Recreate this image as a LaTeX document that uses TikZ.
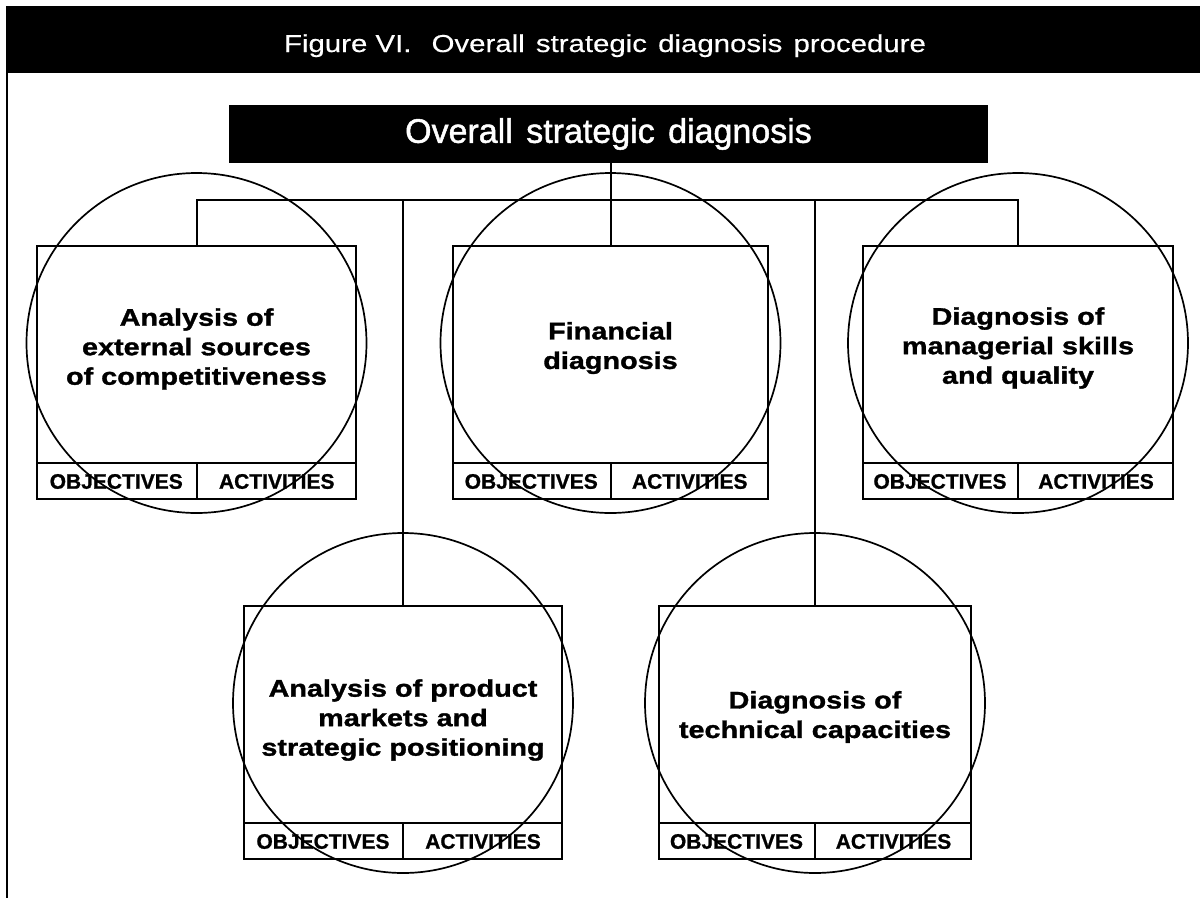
\documentclass[tikz,border=0pt]{standalone}
\usepackage{fontspec}
\setmainfont{Liberation Sans}
\newfontfamily\titlefont{Liberation Sans}[FakeStretch=1.2, FakeBold=0.4]
\newfontfamily\barfont{Liberation Sans}[FakeBold=1.4]
\newfontfamily\bodyfont{Liberation Sans}[FakeStretch=1.2, FakeBold=1.3]
\newfontfamily\cellfont{Liberation Sans}[FakeBold=1]
\usetikzlibrary{calc}

% One diagnosis block: #1 name, #2 centre x, #3 top y, #4 width,
% #5 label y, #6 label text
\newcommand\DiagBox[6]{%
  \node[frame, minimum width=#4, anchor=north] (#1) at (#2,#3) {};
  \draw[line] ([yshift=37pt]#1.south west) -- ([yshift=37pt]#1.south east);
  \draw[line] ([yshift=37pt]#1.south) -- (#1.south);
  \node[cell] (#1-obj) at ($(#1.south west)!0.25!(#1.south east)+(0,-18.5)$) {OBJECTIVES};
  \node[cell] (#1-act) at ($(#1.south west)!0.75!(#1.south east)+(0,-18.5)$) {ACTIVITIES};
  \node[label] (#1-text) at (#2,#5) {#6};
  \coordinate (#1-ring) at ($(#1.north)+(0,98)$);
  \draw[ring] (#1-ring) circle[radius=170];
}

\begin{document}
\begin{tikzpicture}[x=1pt,y=-1pt,
  line/.style={line width=2pt},
  ring/.style={line width=1.7pt},
  frame/.style={draw, line width=2pt, inner sep=0pt, minimum height=253},
  label/.style={font=\bodyfont\bfseries\fontsize{24}{29.5}\selectfont, align=center, inner sep=0pt},
  cell/.style={font=\cellfont\bfseries\fontsize{21}{21}\selectfont, inner sep=0pt}
]
\useasboundingbox (0,0) rectangle (1200,898);

% heading band and frame rule
\fill (7,6) rectangle (1200,73);
\draw[line] (7,6) -- (7,898);
\node[text=white, font=\titlefont\fontsize{24.5}{24.5}\selectfont, anchor=base] (title)
  at (605,52) {Figure VI.\hspace{12pt} Overall\hspace{3pt} strategic\hspace{3pt} diagnosis\hspace{3pt} procedure};

% root bar
\node[fill=black, minimum width=759, minimum height=58, inner sep=0pt, text=white,
  font=\barfont\fontsize{34}{34}\selectfont] (root) at (608.5,134)
  {Overall\hspace{4pt} strategic\hspace{4pt} diagnosis};

% diagnosis blocks
\DiagBox{ext}{196.5}{245}{319}{349}{Analysis of\\external sources\\of competitiveness}
\DiagBox{fin}{610.5}{245}{315}{348}{Financial\\diagnosis}
\DiagBox{mgr}{1018}{245}{310}{348}{Diagnosis of\\managerial skills\\and quality}
\DiagBox{prod}{403}{605}{318}{720}{Analysis of product\\markets and\\strategic positioning}
\DiagBox{tech}{815}{605}{312}{717}{Diagnosis of\\technical capacities}

% connectors
\coordinate (bus) at (608.5,200);
\draw[line] (fin.north) -- (fin.north |- root.south);
\draw[line] (ext.north) |- (bus) -| (mgr.north);
\draw[line] (prod.north) -- (prod.north |- bus);
\draw[line] (tech.north) -- (tech.north |- bus);
\end{tikzpicture}
\end{document}
